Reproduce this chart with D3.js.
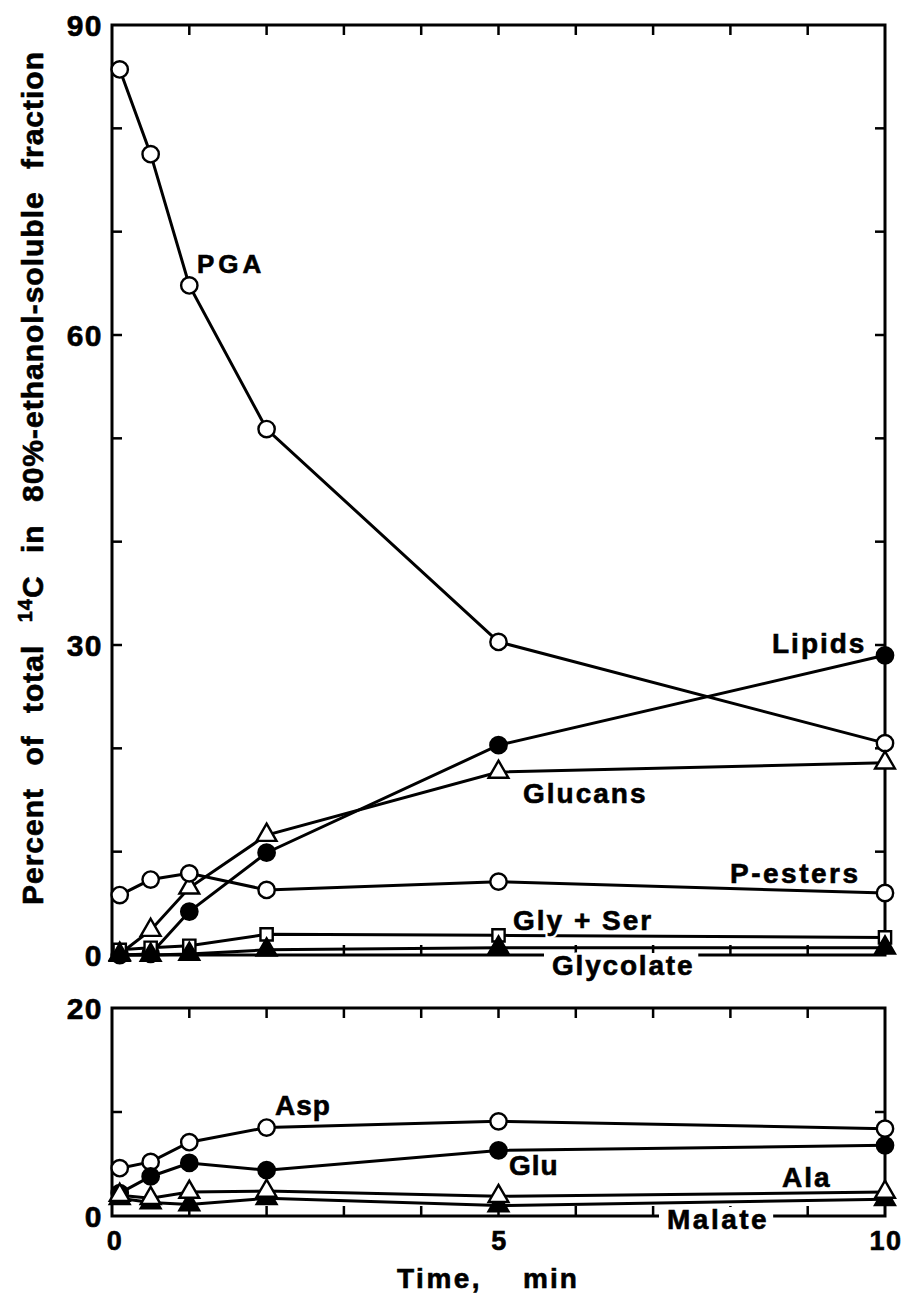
<!DOCTYPE html>
<html>
<head>
<meta charset="utf-8">
<script src="https://cdn.jsdelivr.net/npm/d3@7"></script>
<style>
  body { margin: 0; background: #fff; }
  svg text { font-family: "Liberation Sans", Arial, sans-serif; font-weight: bold; fill: #000; }
</style>
</head>
<body>
<svg id="chart" width="906" height="1296"></svg>
<script>
// Zeitpunkte (min)
const times = [0.1, 0.5, 1, 2, 5, 10];

// oberes Panel (% of total 14C)
const pga      = [85.7, 77.5, 64.8, 50.9, 30.3, 20.5];
const lipids   = [0.0, 0.1, 4.2, 9.9, 20.3, 29.0];
const glucans  = [0.1, 2.4, 6.5, 11.6, 17.7, 18.6];
const pEsters  = [5.8, 7.3, 7.9, 6.3, 7.1, 6.0];
const glySer   = [0.5, 0.7, 0.9, 2.0, 1.9, 1.7];
const glycolate= [0.0, 0.0, 0.1, 0.5, 0.7, 0.7];

// unteres Panel
const asp      = [4.6, 5.2, 7.1, 8.5, 9.1, 8.4];
const glu      = [2.2, 3.8, 5.1, 4.4, 6.3, 6.8];
const ala      = [2.0, 1.7, 2.3, 2.4, 1.9, 2.3];
const malate   = [1.7, 1.3, 1.1, 1.7, 1.0, 1.6];

const topYTicks = [0, 10, 20, 30, 40, 50, 60, 70, 80, 90];
const topYLabels = [0, 30, 60, 90];
const botYTicks = [0, 10, 20];
const botYLabels = [0, 20];
const xTicks = [0, 1, 2, 3, 4, 5, 6, 7, 8, 9, 10];
const xLabels = [0, 5, 10];

const svg = d3.select("#chart");

const x = d3.scaleLinear().domain([0, 10]).range([112, 885]);
const yTop = d3.scaleLinear().domain([0, 90]).range([955, 25]);
const yBot = d3.scaleLinear().domain([0, 20]).range([1216, 1008]);

const series = [
  { vals: pga,       panel: "top", sym: d3.symbolCircle,   size: 210, fill: "#fff" },
  { vals: lipids,    panel: "top", sym: d3.symbolCircle,   size: 210, fill: "#000" },
  { vals: glucans,   panel: "top", sym: d3.symbolTriangle, size: 170, fill: "#fff" },
  { vals: pEsters,   panel: "top", sym: d3.symbolCircle,   size: 210, fill: "#fff" },
  { vals: glySer,    panel: "top", sym: d3.symbolSquare,   size: 150, fill: "#fff" },
  { vals: glycolate, panel: "top", sym: d3.symbolTriangle, size: 170, fill: "#000" },
  { vals: asp,       panel: "bot", sym: d3.symbolCircle,   size: 210, fill: "#fff" },
  { vals: glu,       panel: "bot", sym: d3.symbolCircle,   size: 210, fill: "#000" },
  { vals: malate,    panel: "bot", sym: d3.symbolTriangle, size: 170, fill: "#000" },
  { vals: ala,       panel: "bot", sym: d3.symbolTriangle, size: 170, fill: "#fff" }
];

// Rahmen + Ticks zeichnen
function frame(y, yTicks, yLabels) {
  const g = svg.append("g");
  const y0 = y.range()[0], y1 = y.range()[1];
  g.append("rect")
    .attr("x", x(0)).attr("y", y1)
    .attr("width", x(10) - x(0)).attr("height", y0 - y1)
    .attr("fill", "none").attr("stroke", "#000").attr("stroke-width", 3);

  g.selectAll(".tb").data(xTicks.slice(1, -1)).enter().append("line")
    .attr("x1", d => x(d)).attr("x2", d => x(d))
    .attr("y1", y0).attr("y2", y0 - 10)
    .attr("stroke", "#000").attr("stroke-width", 2.5);
  g.selectAll(".tt").data(xTicks.slice(1, -1)).enter().append("line")
    .attr("x1", d => x(d)).attr("x2", d => x(d))
    .attr("y1", y1).attr("y2", y1 + 10)
    .attr("stroke", "#000").attr("stroke-width", 2.5);
  g.selectAll(".tl").data(yTicks.slice(1, -1)).enter().append("line")
    .attr("x1", x(0)).attr("x2", x(0) + 10)
    .attr("y1", d => y(d)).attr("y2", d => y(d))
    .attr("stroke", "#000").attr("stroke-width", 2.5);
  g.selectAll(".tr").data(yTicks.slice(1, -1)).enter().append("line")
    .attr("x1", x(10)).attr("x2", x(10) - 10)
    .attr("y1", d => y(d)).attr("y2", d => y(d))
    .attr("stroke", "#000").attr("stroke-width", 2.5);

  g.selectAll(".yl").data(yLabels).enter().append("text")
    .attr("x", x(0) - 9).attr("y", d => y(d) + 11)
    .attr("text-anchor", "end")
    .style("font-size", "30px").style("letter-spacing", "1.5px")
    .style("stroke", "#000").style("stroke-width", 0.6)
    .text(d => d);
}

frame(yTop, topYTicks, topYLabels);
frame(yBot, botYTicks, botYLabels);

// x-Beschriftung
svg.selectAll(".xl").data(xLabels).enter().append("text")
  .attr("x", d => x(d) + (d === 0 ? 3 : 1)).attr("y", 1250)
  .attr("text-anchor", "middle")
  .style("font-size", "27px").style("letter-spacing", "1.5px")
  .style("stroke", "#000").style("stroke-width", 0.6)
  .text(d => d);

svg.append("text").attr("x", 397).attr("y", 1288)
  .style("font-size", "28px").style("letter-spacing", "2.5px")
  .style("stroke", "#000").style("stroke-width", 0.6).text("Time,");
svg.append("text").attr("x", 523).attr("y", 1288)
  .style("font-size", "28px").style("letter-spacing", "2px")
  .style("stroke", "#000").style("stroke-width", 0.6).text("min");

// y-Achsentitel
const yt = svg.append("text")
  .attr("transform", "translate(43,905) rotate(-90)")
  .style("font-size", "30px").style("letter-spacing", "1px").style("word-spacing", "13px")
  .style("stroke", "#000").style("stroke-width", 0.6);
yt.append("tspan").text("Percent of total ");
yt.append("tspan").attr("dy", -11).style("font-size", "20px").text("14");
yt.append("tspan").attr("dy", 11).text("C in 80%-ethanol-soluble fraction");

// Linien
const lines = svg.append("g");
series.forEach(s => {
  const y = s.panel === "top" ? yTop : yBot;
  const line = d3.line().x((d, i) => x(times[i])).y(d => y(d));
  lines.append("path").datum(s.vals)
    .attr("d", line)
    .attr("fill", "none").attr("stroke", "#000").attr("stroke-width", 3);
});

// Labels mit weissem Hintergrund
const labels = [
  { t: "PGA",       x: 197, y: 273, ls: 4 },
  { t: "Lipids",    x: 772, y: 653, ls: 2 },
  { t: "Glucans",   x: 523, y: 803, ls: 2 },
  { t: "P-esters",  x: 730, y: 883, ls: 2.5 },
  { t: "Gly + Ser", x: 513, y: 930, ls: 2 },
  { t: "Glycolate", x: 552, y: 975, ls: 1.8, box: true },
  { t: "Asp",       x: 275, y: 1115, ls: 1 },
  { t: "Glu",       x: 509, y: 1175, ls: 1 },
  { t: "Ala",       x: 782, y: 1187, ls: 2 },
  { t: "Malate",    x: 667, y: 1229, ls: 2.5, box: true }
];
const lg = svg.append("g");
labels.forEach(l => {
  const fs = l.t === "PGA" ? 26 : 28;
  lg.append("text")
    .attr("x", l.x).attr("y", l.y)
    .style("font-size", fs + "px").style("letter-spacing", l.ls + "px")
    .style("stroke", "#fff").style("stroke-width", 5)
    .text(l.t);
  const t = lg.append("text")
    .attr("x", l.x).attr("y", l.y)
    .style("font-size", fs + "px").style("letter-spacing", l.ls + "px")
    .style("stroke", "#000").style("stroke-width", 0.6)
    .text(l.t);
  if (l.box) {
    const b = t.node().getBBox();
    lg.insert("rect", "text")
      .attr("x", b.x - 8).attr("y", l.y - 22)
      .attr("width", b.width + 12).attr("height", 14)
      .attr("fill", "#fff");
  }
});

// Marker
const marks = svg.append("g");
series.forEach(s => {
  const y = s.panel === "top" ? yTop : yBot;
  marks.selectAll(null).data(s.vals).enter().append("path")
    .attr("transform", (d, i) => `translate(${x(times[i])},${y(d)})`)
    .attr("d", d3.symbol().type(s.sym).size(s.size))
    .attr("fill", s.fill).attr("stroke", "#000").attr("stroke-width", 2.4);
});
</script>
</body>
</html>
